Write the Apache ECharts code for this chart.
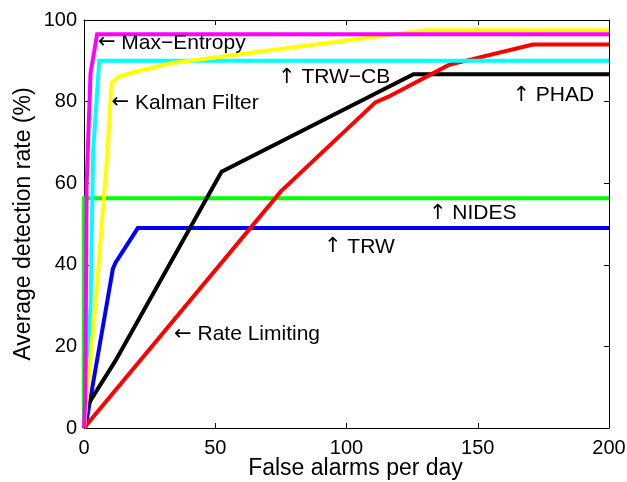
<!DOCTYPE html>
<html>
<head>
<meta charset="utf-8">
<script src="https://cdn.jsdelivr.net/npm/echarts@6/dist/echarts.min.js"></script>
<style>html,body{margin:0;padding:0;background:#fff;}#c{width:627px;height:482px;}</style>
</head>
<body>
<div id="c"></div>
<script>
// ---- data (x: false alarms per day, y: average detection rate %) ----
const xTicks = [0, 50, 100, 150, 200];
const yTicks = [0, 20, 40, 60, 80, 100];

const nidesX = [0, 0, 200];
const nidesY = [0, 56.3, 56.3];

const trwX = [0.5, 11, 12, 20.5, 200];
const trwY = [0, 39, 40.5, 49, 49];

const phadX = [0.3, 12, 52.4, 125.5, 200];
const phadY = [4.5, 16.5, 62.8, 86.7, 86.7];

const rateX = [0, 75, 111, 116, 139, 171, 200];
const rateY = [0, 58, 79.8, 81.2, 89, 94, 94];

const trwCbX = [0, 2.5, 3.5, 5.8, 200];
const trwCbY = [0, 30, 68, 90, 90];

const kalmanX = [0, 2.5, 5, 9, 10.5, 13, 19, 33, 71, 100, 130, 200];
const kalmanY = [0, 17, 35, 68, 84.5, 86, 87.2, 89.4, 92.6, 95, 97.5, 97.5];

const maxEntX = [0, 0.5, 1, 2.5, 5, 200];
const maxEntY = [0, 8, 60, 87, 96.5, 96.5];

// annotation labels (arrow + name), anchored in data coordinates
const noteArrow = ['\u2190', '\u2190', '\u2191', '\u2191', '\u2191', '\u2191', '\u2190'];
const noteText = ['Max\u2212Entropy', 'Kalman Filter', 'TRW\u2212CB', 'PHAD', 'NIDES', 'TRW', 'Rate Limiting'];
const noteX = [5.3, 10.5, 73.9, 163.2, 131.4, 91.4, 34.3];
const noteY = [94.4, 79.7, 85.9, 81.5, 52.6, 44.4, 22.9];

const zip = (xs, ys) => xs.map((x, i) => [x, ys[i]]);
const FONT = '"Liberation Sans", Arial, Helvetica, sans-serif';

function line(name, xs, ys, color) {
  return {
    name, type: 'line', data: zip(xs, ys), showSymbol: false, symbol: 'none',
    lineStyle: { color, width: 4, join: 'miter' }, itemStyle: { color },
    xAxisIndex: 0, yAxisIndex: 0, animation: false, silent: true
  };
}

const chart = echarts.init(document.getElementById('c'), null, { renderer: 'canvas' });
const axisLine = { show: true, onZero: false, lineStyle: { color: '#000', width: 1 } };
const tick = { show: true, inside: true, length: 5, lineStyle: { color: '#000', width: 1 } };

const option = {
  animation: false,
  backgroundColor: '#fff',
  grid: { left: 84, right: 18, top: 20, bottom: 54, containLabel: false, outerBoundsMode: 'none' },
  xAxis: [
    {
      type: 'value', min: 0, max: 200, interval: 50, position: 'bottom',
      axisLine, axisTick: tick, splitLine: { show: false },
      axisLabel: { color: '#000', fontSize: 20, fontFamily: FONT, margin: 10,
        formatter: v => (xTicks.includes(v) ? String(v) : '') },
      name: 'False alarms per day', nameLocation: 'middle', nameGap: 29, nameMoveOverlap: false,
      nameTextStyle: { color: '#000', fontSize: 23, fontFamily: FONT, padding: [0, 0, 0, 18] }
    },
    {
      type: 'value', min: 0, max: 200, interval: 50, position: 'top',
      axisLine, axisTick: tick, splitLine: { show: false }, axisLabel: { show: false }
    }
  ],
  yAxis: [
    {
      type: 'value', min: 0, max: 100, interval: 20, position: 'left',
      axisLine, axisTick: tick, splitLine: { show: false },
      axisLabel: { color: '#000', fontSize: 20, fontFamily: FONT, margin: 7,
        formatter: v => (yTicks.includes(v) ? String(v) : '') },
      name: 'Average detection rate (%)', nameLocation: 'middle', nameGap: 49, nameMoveOverlap: false,
      nameTextStyle: { color: '#000', fontSize: 23, fontFamily: FONT }
    },
    {
      type: 'value', min: 0, max: 100, interval: 20, position: 'right',
      axisLine, axisTick: tick, splitLine: { show: false }, axisLabel: { show: false }
    }
  ],
  series: [
    line('NIDES', nidesX, nidesY, '#00ff00'),
    line('TRW', trwX, trwY, '#0000ff'),
    line('PHAD', phadX, phadY, '#000000'),
    line('Rate Limiting', rateX, rateY, '#ff0000'),
    line('TRW-CB', trwCbX, trwCbY, '#00ffff'),
    line('Kalman Filter', kalmanX, kalmanY, '#ffff00'),
    line('Max-Entropy', maxEntX, maxEntY, '#ff00ff')
  ]
};
chart.setOption(option);

const graphics = noteText.map((t, i) => {
  const p = chart.convertToPixel({ xAxisIndex: 0, yAxisIndex: 0 }, [noteX[i], noteY[i]]);
  return {
    type: 'text', x: p[0], y: p[1], z: 100,
    style: {
      text: '{a|' + noteArrow[i] + '} ' + t,
      fill: '#000', font: '21px ' + FONT, fontSize: 21, fontFamily: FONT,
      align: 'left', verticalAlign: 'middle',
      rich: { a: { fontFamily: '"DejaVu Sans", sans-serif', fontSize: 21, fill: '#000' } }
    }
  };
});
chart.setOption({ graphic: graphics });
</script>
</body>
</html>
